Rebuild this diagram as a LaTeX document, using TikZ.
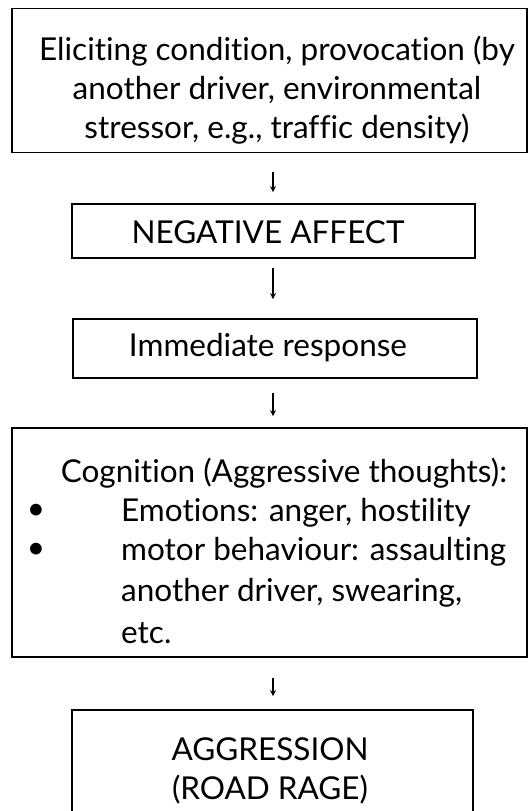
\documentclass[tikz,border=0pt]{standalone}
\usepackage{fontspec}
\setmainfont[Ligatures={NoCommon}]{Lato}
\usetikzlibrary{arrows.meta}
\tikzset{
  boxnode/.style={draw, line width=1.6pt, inner sep=0pt},
  txt/.style={inner sep=0pt, align=center, font=\fontsize{31.5}{39}\selectfont},
  flow/.style={line width=1.3pt, -{Stealth[length=6pt,width=6pt]}},
}
\begin{document}
\begin{tikzpicture}[x=1pt,y=-1pt]
\useasboundingbox (0,0) rectangle (529,811);
\clip (0,0) rectangle (529,811);
% boxes
\node[boxnode, minimum width=515pt, minimum height=144pt] (b1) at (269.5,80.5) {};
\node[boxnode, minimum width=403pt, minimum height=54pt] (b2) at (273.5,231) {};
\node[boxnode, minimum width=404pt, minimum height=59pt] (b3) at (275,348.5) {};
\node[boxnode, minimum width=515pt, minimum height=229pt] (b4) at (269.5,542.5) {};
\node[boxnode, minimum width=401pt, minimum height=150pt] (b5) at (272.5,785) {};
% texts
\node[txt] (t1) at (277,90) {Eliciting condition, provocation (by\\another driver, environmental\\stressor, e.g., traffic density)};
\node[txt] (t2) at (268,232) {NEGATIVE AFFECT};
\node[txt] (t3) at (268,348) {Immediate response};
\node[txt] (t4a) at (284,473) {Cognition (Aggressive thoughts):};
\node[txt, anchor=west] (t4b) at (121,513) {Emotions: anger, hostility};
\node[txt, anchor=west] (t4c) at (121,552) {motor behaviour: assaulting};
\node[txt, anchor=west] (t4d) at (121,593) {another driver, swearing,};
\node[txt, anchor=west] (t4e) at (121,633) {etc.};
\node[txt] (bu1) at (36,512) {\textbullet};
\node[txt] (bu2) at (36,551) {\textbullet};
\node[txt] (t5) at (270,771) {AGGRESSION\\(ROAD RAGE)};
% arrows
\coordinate (ax) at (273,0);
\draw[flow, shorten <=19pt, shorten >=11pt] (b1.south -| ax) -- (b2.north -| ax);
\draw[flow, shorten <=9pt, shorten >=19pt] (b2.south -| ax) -- (b3.north -| ax);
\draw[flow, shorten <=14pt, shorten >=11pt] (b3.south -| ax) -- (b4.north -| ax);
\draw[flow, shorten <=20pt, shorten >=13pt] (b4.south -| ax) -- (b5.north -| ax);
\end{tikzpicture}
\end{document}
